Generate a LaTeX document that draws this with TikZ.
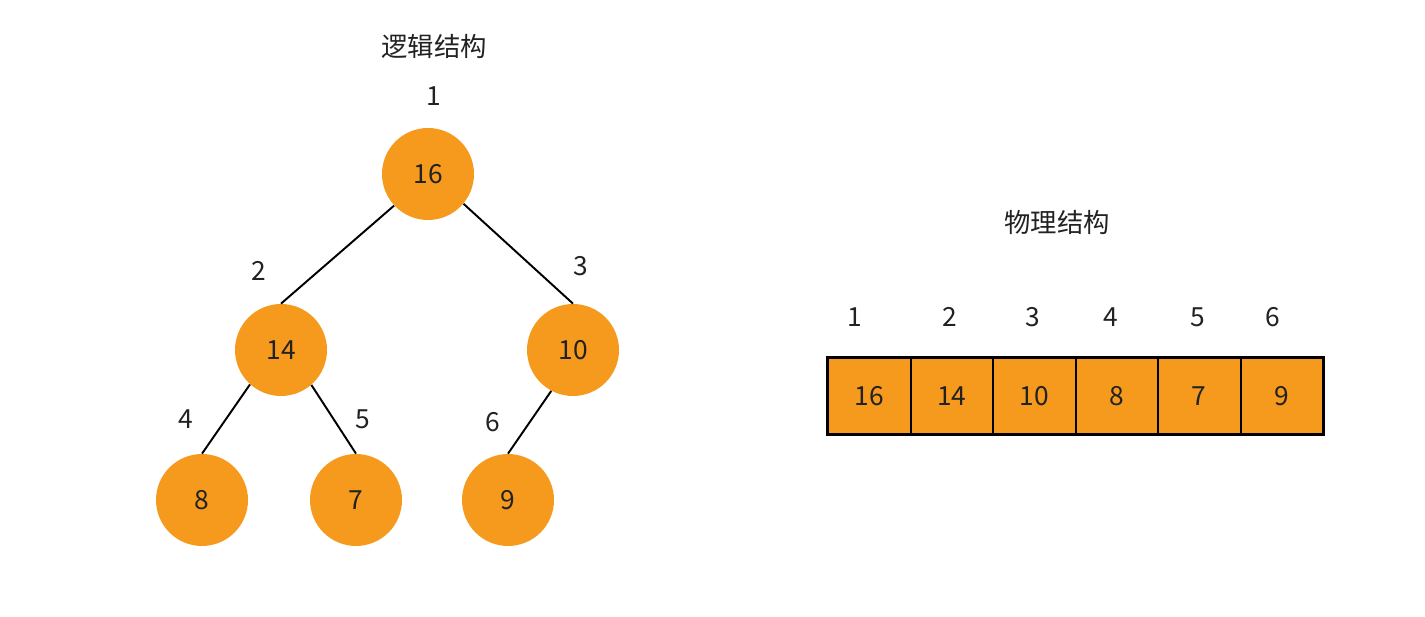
\documentclass[tikz,border=0pt]{standalone}
\usepackage{fontspec}
\setmainfont{Noto Sans CJK SC}
\definecolor{heaporange}{HTML}{F59A1D}
\definecolor{inkgray}{HTML}{222222}
\begin{document}
\begin{tikzpicture}[x=0.02cm,y=-0.02cm,
  every node/.style={font=\fontsize{15}{17}\selectfont,text=inkgray},
  heapnode/.style={circle,fill=heaporange,minimum size=1.84cm,inner sep=0pt},
  cellbox/.style={fill=heaporange,minimum width=1.65cm,minimum height=1.54cm,inner sep=0pt},
  treeline/.style={line width=1.1pt}]
\useasboundingbox (0,0) rectangle (1425,617);
% logical view: the heap as a tree
\node (ltitle) at (434,46) {逻辑结构};
\node (n1) at (428,174) [heapnode] {16};
\node (n2) at (281,350) [heapnode] {14};
\node (n3) at (573,350) [heapnode] {10};
\node (n4) at (202,500) [heapnode] {8};
\node (n5) at (356,500) [heapnode] {7};
\node (n6) at (508,500) [heapnode] {9};
\draw[treeline] (n1.223) -- (n2.north);
\draw[treeline] (n1.320) -- (n3.north);
\draw[treeline] (n2.228) -- (n4.north);
\draw[treeline] (n2.311) -- (n5.north);
\draw[treeline] (n3.242) -- (n6.north);
\node (k1) at (434,96) {1};
\node (k2) at (259,271) {2};
\node (k3) at (581,266) {3};
\node (k4) at (186,419) {4};
\node (k5) at (363,419) {5};
\node (k6) at (493,422) {6};
% physical view: the same heap as an array
\node (ptitle) at (1057,222) {物理结构};
\foreach \v [count=\i] in {16,14,10,8,7,9}
  \node[cellbox] (c\i) at ({828+82.5*(\i-0.5)},396) {\v};
\foreach \i in {1,...,5}
  \draw[line width=1.2pt] (c\i.north east) -- (c\i.south east);
\draw[line width=1.7pt] (c1.north west) rectangle (c6.south east);
\foreach \x [count=\i] in {855,950,1033,1111,1198,1273}
  \node (i\i) at (\x,317) {\i};
\end{tikzpicture}
\end{document}
